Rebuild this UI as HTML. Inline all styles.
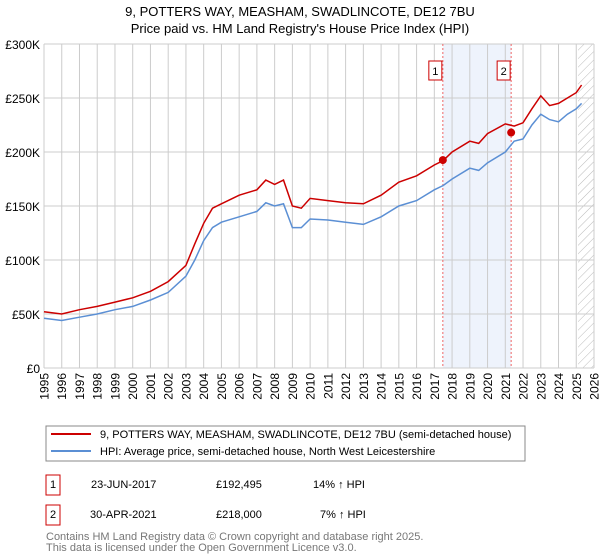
<!DOCTYPE html>
<html><head><meta charset="utf-8"><style>
body{margin:0;background:#fff;font-family:"Liberation Sans","DejaVu Sans",sans-serif}
</style></head><body>
<svg width="600" height="560" style="display:block">
<defs><pattern id="hatch" width="6" height="6" patternUnits="userSpaceOnUse" patternTransform="rotate(45)"><line x1="0" y1="0" x2="0" y2="6" stroke="#bbb" stroke-width="1"/></pattern></defs>
<text x="300" y="16" text-anchor="middle" font-size="13">9, POTTERS WAY, MEASHAM, SWADLINCOTE, DE12 7BU</text>
<text x="300" y="33" text-anchor="middle" font-size="13">Price paid vs. HM Land Registry's House Price Index (HPI)</text>
<g id="grid"></g><g id="series"></g><g id="axes"></g>
<rect x="46" y="426" width="479" height="35" fill="#fff" stroke="#888"/>
<line x1="51" y1="434" x2="91" y2="434" stroke="#cc0000" stroke-width="2"/>
<text x="100" y="438" font-size="11">9, POTTERS WAY, MEASHAM, SWADLINCOTE, DE12 7BU (semi-detached house)</text>
<line x1="51" y1="451" x2="91" y2="451" stroke="#5b8fd4" stroke-width="2"/>
<text x="100" y="455" font-size="11">HPI: Average price, semi-detached house, North West Leicestershire</text>
<g font-size="11">
<rect x="46" y="475" width="14" height="20" fill="none" stroke="#cc0000"/><text x="53" y="488" text-anchor="middle">1</text>
<text x="91" y="488">23-JUN-2017</text><text x="216" y="488">£192,495</text><text x="313" y="488">14% ↑ HPI</text>
<rect x="46" y="505" width="14" height="20" fill="none" stroke="#cc0000"/><text x="53" y="518" text-anchor="middle">2</text>
<text x="90" y="518">30-APR-2021</text><text x="216" y="518">£218,000</text><text x="320" y="518">7% ↑ HPI</text>
</g>
<text x="46" y="540" font-size="11" fill="#777">Contains HM Land Registry data © Crown copyright and database right 2025.</text>
<text x="46" y="551" font-size="11" fill="#777">This data is licensed under the Open Government Licence v3.0.</text>
</svg>
<script>
const years=[1995,1996,1997,1998,1999,2000,2001,2002,2003,2003.5,2004,2004.5,2005,2006,2007,2007.5,2008,2008.5,2009,2009.5,2010,2011,2012,2013,2014,2015,2016,2017,2017.5,2018,2019,2019.5,2020,2021,2021.5,2022,2022.5,2023,2023.5,2024,2024.5,2025,2025.3];
const hpi=[46,44,47,50,54,57,63,70,85,100,118,130,135,140,145,153,150,152,130,130,138,137,135,133,140,150,155,165,169,175,185,183,190,200,210,212,225,235,230,228,235,240,245];
const price=[52,50,54,57,61,65,71,80,95,115,134,148,152,160,165,174,170,174,150,148,157,155,153,152,160,172,178,188,192,200,210,208,217,226,224,227,240,252,243,245,250,255,262];
const saleYears=[2017.48,2021.33];
const saleValues=[192.495,218];
const yTicks=[0,50,100,150,200,250,300];
const yTickLabels=["£0","£50K","£100K","£150K","£200K","£250K","£300K"];
const NS="http://www.w3.org/2000/svg";
const X=y=>44+(y-1995)*(550/31), Y=v=>368-v*(324/300);
function mk(t,a,p){const e=document.createElementNS(NS,t);for(const k in a)e.setAttribute(k,a[k]);p.appendChild(e);return e;}
const g=document.getElementById('grid'),s=document.getElementById('series'),ax=document.getElementById('axes');
let band=mk('rect',{x:X(saleYears[0]),y:Y(300),width:X(saleYears[1])-X(saleYears[0]),height:Y(0)-Y(300),fill:'#eef3fc'},g);


let ht=mk('rect',{x:X(2025.1),y:Y(300),width:X(2026)-X(2025.1),height:Y(0)-Y(300),fill:'url(#hatch)'},g);


for(let yr=1995;yr<=2026;yr++){
 let l=mk('line',{x1:X(yr),x2:X(yr),y1:Y(300),y2:Y(0),stroke:'#ccc'},g);
 
 
 let t=mk('text',{x:0,y:0,'font-size':12,'text-anchor':'end',transform:'translate('+(X(yr)+4.5)+',373) rotate(-90)'},ax);t.textContent=yr;
 
 
}
yTicks.forEach((v,i)=>{
 let l=mk('line',{x1:X(1995),x2:X(2026),y1:Y(v),y2:Y(v),stroke:'#ccc'},g);
 
 
 let t=mk('text',{x:40,y:Y(v)+5,'font-size':12,'text-anchor':'end'},ax);t.textContent=yTickLabels[i];
 
 
});
saleYears.forEach((yr,i)=>{
 let l=mk('line',{x1:X(yr),x2:X(yr),y1:Y(300),y2:Y(0),stroke:'#e66','stroke-dasharray':'2,2'},g);
 
 
 let r=mk('rect',{x:X(yr)-14,y:61,width:13,height:19,fill:'#fff',stroke:'#cc0000'},ax);
 
 
 let t=mk('text',{x:X(yr)-7.5,y:75,'font-size':11,'text-anchor':'middle'},ax);t.textContent=String(i+1);
 
 
});
const path=arr=>arr.map((v,i)=>(i?'L':'M')+X(years[i]).toFixed(1)+','+Y(v).toFixed(1)).join('');
let hl=mk('path',{d:path(hpi),fill:'none',stroke:'#5b8fd4','stroke-width':1.5},s);


let pl=mk('path',{d:path(price),fill:'none',stroke:'#cc0000','stroke-width':1.5},s);


saleYears.forEach((yr,i)=>{
 let c=mk('circle',{cx:X(yr),cy:Y(saleValues[i]),r:4,fill:'#cc0000'},s);
 
 
});
</script>
</body></html>
